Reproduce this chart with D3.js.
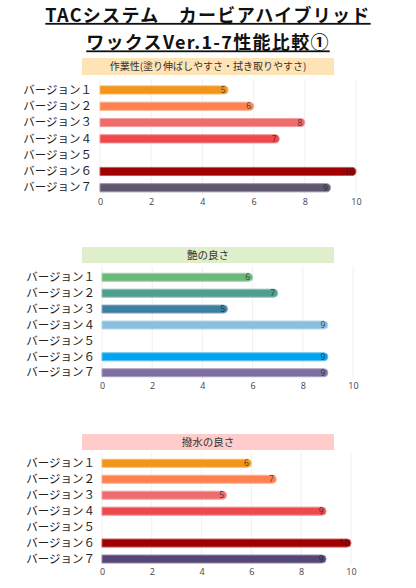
<!DOCTYPE html>
<html><head><meta charset="utf-8">
<script src="https://cdn.jsdelivr.net/npm/d3@7/dist/d3.min.js"></script>
<style>
html,body{margin:0;padding:0;background:#fff;}
svg{display:block;font-family:"Noto Sans CJK JP","Noto Sans",sans-serif;}
</style></head>
<body>
<svg id="chart" width="416" height="588"></svg>
<script>
const titleLines = ["TACシステム　カービアハイブリッド", "ワックスVer.1-7性能比較①"];
const categories = ["バージョン１","バージョン２","バージョン３","バージョン４","バージョン５","バージョン６","バージョン７"];
const tickValues = [0,2,4,6,8,10];
const panelTitles = ["作業性(塗り伸ばしやすさ・拭き取りやすさ)", "艶の良さ", "撥水の良さ"];
const workabilityValues = [5,6,8,7,null,10,9];
const glossValues = [6,7,5,9,null,9,9];
const waterValues = [6,7,5,9,null,10,9];
const workabilityColors = ["#f39519","#fe8150","#ee6b6e","#ed4a4f","#cccccc","#a00000","#5f5770"];
const glossColors = ["#6bb87b","#4f9e8f","#3d7fa0","#8ac0de","#cccccc","#03a2ed","#7e6fa0"];
const waterColors = ["#f39519","#fe8150","#ee6b6e","#ed4a4f","#cccccc","#a00000","#564677"];
const headerColors = ["#fde3b5","#dfeecb","#ffcccc"];

const svg = d3.select("#chart");

// Title
const tY = [21.5, 49];
titleLines.forEach((t,i)=>{
  const txt = svg.append("text").attr("x",208).attr("y",tY[i])
    .attr("text-anchor","middle").attr("font-size",18).attr("font-weight",700)
    .attr("letter-spacing",1.3)
    .attr("fill","#111").text(t);
  const bb = txt.node().getBBox();
  svg.append("rect").attr("x",bb.x).attr("y",tY[i]+1.4).attr("width",bb.width).attr("height",1.8).attr("fill","#111");
});

const panels = [
  {title:panelTitles[0], values:workabilityValues, colors:workabilityColors, head:[58,75], x0:100, x1:356, yr:[81.8,195.9], tickY:203, labelX:92, hdr:headerColors[0], hfs:10},
  {title:panelTitles[1], values:glossValues, colors:glossColors, head:[247,263], x0:102, x1:353, yr:[269.3,380.7], tickY:387, labelX:95, hdr:headerColors[1], hfs:10.5},
  {title:panelTitles[2], values:waterValues, colors:waterColors, head:[434,450], x0:102, x1:351, yr:[455.3,567], tickY:573, labelX:95, hdr:headerColors[2], hfs:10.5}
];

function lighten(c){ return d3.interpolateRgb(c,"#ffffff")(0.35); }

panels.forEach(p=>{
  const g = svg.append("g");
  g.append("rect").attr("x",82).attr("y",p.head[0]).attr("width",252).attr("height",p.head[1]-p.head[0]).attr("fill",p.hdr);
  g.append("text").attr("x",208).attr("y",(p.head[0]+p.head[1])/2).attr("dy","0.36em")
    .attr("text-anchor","middle").attr("font-size",p.hfs).attr("fill","#333").text(p.title);

  const x = d3.scaleLinear().domain([0,10]).range([p.x0,p.x1]);
  const y = d3.scaleBand().domain(categories).range(p.yr).paddingInner(0.5).paddingOuter(0.25);

  g.selectAll("line.grid").data(tickValues).join("line")
    .attr("x1",d=>x(d)).attr("x2",d=>x(d))
    .attr("y1",p.yr[0]-3).attr("y2",p.yr[1]-2)
    .attr("stroke","#f0f0f0").attr("stroke-width",1);

  const ax = d3.axisBottom(x).tickValues(tickValues).tickSize(0).tickPadding(0);
  const axg = g.append("g").attr("transform",`translate(0,${p.tickY-4.5})`).call(ax);
  axg.select(".domain").remove();
  axg.selectAll("text").attr("font-size",9).attr("fill","#444").attr("font-family","'Open Sans','Noto Sans',sans-serif").attr("dy","0.71em");

  const ay = d3.axisLeft(y).tickSize(0).tickPadding(0);
  const ayg = g.append("g").attr("transform",`translate(${p.labelX},0)`).call(ay);
  ayg.select(".domain").remove();
  ayg.selectAll("text").attr("font-size",11.5).attr("fill","#222").attr("font-family","'Noto Sans CJK JP',sans-serif");

  const data = categories.map((c,i)=>({c, v:p.values[i], col:p.colors[i]})).filter(d=>d.v!=null);
  const h = y.bandwidth();
  g.selectAll("path.bar").data(data).join("path")
    .attr("d",d=>{
      const x0 = x(0), x1 = x(d.v), y0 = y(d.c), r = h/2;
      return `M${x0},${y0}H${x1-r}A${r},${r} 0 0 1 ${x1-r},${y0+h}H${x0}Z`;
    })
    .attr("fill",d=>d.col).attr("stroke",d=>lighten(d.col)).attr("stroke-width",1);

  g.selectAll("text.val").data(data).join("text")
    .attr("x",d=>x(d.v)-2.5).attr("y",d=>y(d.c)+h/2).attr("dy","0.36em")
    .attr("text-anchor","end").attr("font-size",8.5).attr("fill","#222").attr("fill-opacity",0.8)
    .attr("font-family","'Open Sans','Noto Sans',sans-serif")
    .text(d=>d.v);
});
</script>
</body></html>
